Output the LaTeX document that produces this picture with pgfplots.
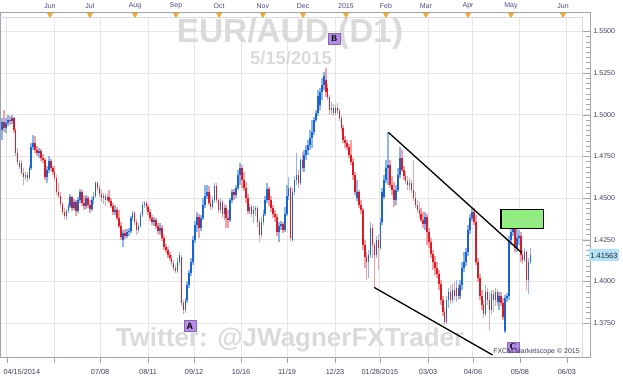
\documentclass[border=0pt]{standalone}
\usepackage{pgfplots}
\pgfplotsset{compat=1.18}
\usepackage{pgfplotstable}
\usepackage{fontspec}
\setmainfont{Liberation Sans}
\newfontfamily\serifb{Liberation Serif}

\definecolor{upb}{HTML}{1764D2}
\definecolor{upw}{HTML}{8DB6EA}
\definecolor{dnb}{HTML}{E01A22}
\definecolor{dnw}{HTML}{F2A2A6}
\definecolor{gridc}{HTML}{E6E6E6}
\definecolor{wm}{HTML}{DADADA}
\definecolor{lab}{HTML}{3E3E5E}
\definecolor{mon}{HTML}{4A4A86}
\definecolor{frame}{HTML}{A0A4B0}
\definecolor{innerc}{HTML}{D4DAE6}
\definecolor{tri}{HTML}{F5A623}
\definecolor{boxg}{HTML}{90EE7E}
\definecolor{abc}{HTML}{B68CEB}
\definecolor{pricec}{HTML}{B2E2F8}

\pgfplotstableread{
i o h l c
0 1.4909 1.4981 1.4849 1.4957
1 1.4957 1.5029 1.4897 1.4921
2 1.4921 1.4981 1.4891 1.4951
3 1.4951 1.4999 1.4933 1.4969
4 1.4969 1.4993 1.4939 1.4963
5 1.4963 1.4999 1.4945 1.4981
6 1.4981 1.4987 1.4891 1.4909
7 1.4909 1.4921 1.4753 1.4771
8 1.4771 1.4801 1.4699 1.4717
9 1.4687 1.4729 1.4675 1.4711
10 1.4711 1.4729 1.4639 1.4651
11 1.4651 1.4681 1.4579 1.4627
12 1.4627 1.4657 1.4609 1.4639
13 1.4639 1.4657 1.4597 1.4621
14 1.4621 1.4699 1.4609 1.4681
15 1.4681 1.4831 1.4669 1.4807
16 1.4807 1.4879 1.4789 1.4831
17 1.4831 1.4873 1.4771 1.4789
18 1.4789 1.4813 1.4753 1.4771
19 1.4771 1.4801 1.4741 1.4783
20 1.4783 1.4795 1.4723 1.4741
21 1.4741 1.4765 1.4711 1.4729
22 1.4729 1.4741 1.4609 1.4627
23 1.4627 1.4693 1.4591 1.4669
24 1.4669 1.4753 1.4651 1.4723
25 1.4723 1.4735 1.4663 1.4681
26 1.4681 1.4693 1.4639 1.4657
27 1.4657 1.4693 1.4603 1.4621
28 1.4621 1.4639 1.4519 1.4537
29 1.4537 1.4591 1.4501 1.4513
30 1.4513 1.4537 1.4447 1.4465
31 1.4465 1.4477 1.4399 1.4417
32 1.4417 1.4441 1.4375 1.4393
33 1.4393 1.4435 1.4369 1.4423
34 1.4423 1.4471 1.4411 1.4453
35 1.4453 1.4525 1.4441 1.4507
36 1.4507 1.4513 1.4423 1.4441
37 1.4441 1.4495 1.4429 1.4477
38 1.4477 1.4489 1.4393 1.4423
39 1.4423 1.4507 1.4411 1.4489
40 1.4489 1.4555 1.4471 1.4537
41 1.4537 1.4549 1.4453 1.4471
42 1.4471 1.4513 1.4429 1.4453
43 1.4453 1.4519 1.4435 1.4501
44 1.4501 1.4513 1.4441 1.4459
45 1.4459 1.4489 1.4411 1.4435
46 1.4435 1.4507 1.4423 1.4489
47 1.4489 1.4537 1.4465 1.4513
48 1.4513 1.4603 1.4501 1.4591
49 1.4591 1.4603 1.4543 1.4561
50 1.4561 1.4579 1.4507 1.4525
51 1.4525 1.4549 1.4477 1.4501
52 1.4501 1.4531 1.4465 1.4513
53 1.4513 1.4531 1.4453 1.4489
54 1.4489 1.4525 1.4477 1.4507
55 1.4507 1.4549 1.4471 1.4483
56 1.4483 1.4501 1.4441 1.4453
57 1.4453 1.4471 1.4399 1.4417
58 1.4417 1.4459 1.4399 1.4429
59 1.4429 1.4447 1.4369 1.4381
60 1.4381 1.4429 1.4321 1.4333
61 1.4333 1.4357 1.4249 1.4267
62 1.4249 1.4309 1.4207 1.4291
63 1.4291 1.4315 1.4255 1.4273
64 1.4273 1.4315 1.4261 1.4297
65 1.4297 1.4321 1.4273 1.4303
66 1.4303 1.4393 1.4291 1.4381
67 1.4381 1.4423 1.4363 1.4411
68 1.4411 1.4423 1.4339 1.4357
69 1.4357 1.4375 1.4279 1.4309
70 1.4309 1.4351 1.4291 1.4333
71 1.4333 1.4417 1.4321 1.4399
72 1.4399 1.4477 1.4387 1.4459
73 1.4459 1.4483 1.4441 1.4471
74 1.4471 1.4483 1.4429 1.4447
75 1.4447 1.4465 1.4399 1.4417
76 1.4417 1.4435 1.4363 1.4381
77 1.4381 1.4399 1.4339 1.4357
78 1.4357 1.4387 1.4333 1.4369
79 1.4369 1.4381 1.4315 1.4333
80 1.4333 1.4351 1.4285 1.4303
81 1.4303 1.4351 1.4279 1.4321
82 1.4321 1.4339 1.4243 1.4261
83 1.4261 1.4279 1.4189 1.4207
84 1.4207 1.4225 1.4171 1.4189
85 1.4189 1.4207 1.4141 1.4159
86 1.4159 1.4177 1.4123 1.4141
87 1.4141 1.4159 1.4093 1.4111
88 1.4111 1.4129 1.4063 1.4081
89 1.4081 1.4099 1.4051 1.4063
90 1.4063 1.4141 1.4051 1.4117
91 1.4117 1.4177 1.4099 1.4159
92 1.4147 1.4159 1.3853 1.3871
93 1.3871 1.3889 1.3805 1.3829
94 1.3829 1.3901 1.3811 1.3889
95 1.3889 1.4003 1.3871 1.3979
96 1.3979 1.4069 1.3961 1.4051
97 1.4051 1.4141 1.4033 1.4117
98 1.4117 1.4273 1.4099 1.4249
99 1.4249 1.4363 1.4231 1.4339
100 1.4339 1.4417 1.4297 1.4387
101 1.4387 1.4405 1.4261 1.4321
102 1.4321 1.4399 1.4303 1.4381
103 1.4381 1.4501 1.4369 1.4459
104 1.4459 1.4579 1.4441 1.4513
105 1.4513 1.4579 1.4495 1.4537
106 1.4537 1.4573 1.4459 1.4471
107 1.4471 1.4519 1.4429 1.4447
108 1.4447 1.4507 1.4435 1.4489
109 1.4489 1.4591 1.4471 1.4573
110 1.4573 1.4591 1.4471 1.4489
111 1.4489 1.4501 1.4411 1.4429
112 1.4429 1.4501 1.4411 1.4477
113 1.4477 1.4489 1.4381 1.4405
114 1.4405 1.4465 1.4369 1.4441
115 1.4441 1.4459 1.4321 1.4381
116 1.4381 1.4429 1.4321 1.4369
117 1.4369 1.4501 1.4357 1.4489
118 1.4489 1.4555 1.4471 1.4537
119 1.4537 1.4555 1.4489 1.4519
120 1.4519 1.4579 1.4501 1.4561
121 1.4561 1.4669 1.4549 1.4639
122 1.4639 1.4711 1.4579 1.4681
123 1.4681 1.4699 1.4561 1.4609
124 1.4609 1.4657 1.4543 1.4561
125 1.4561 1.4597 1.4471 1.4501
126 1.4501 1.4525 1.4405 1.4423
127 1.4423 1.4465 1.4405 1.4447
128 1.4447 1.4459 1.4387 1.4405
129 1.4405 1.4453 1.4351 1.4429
130 1.4429 1.4453 1.4393 1.4441
131 1.4441 1.4453 1.4327 1.4357
132 1.4357 1.4375 1.4237 1.4279
133 1.4279 1.4387 1.4261 1.4357
134 1.4357 1.4429 1.4339 1.4405
135 1.4405 1.4513 1.4393 1.4489
136 1.4489 1.4591 1.4471 1.4555
137 1.4555 1.4567 1.4453 1.4489
138 1.4489 1.4513 1.4417 1.4441
139 1.4441 1.4459 1.4381 1.4405
140 1.4405 1.4429 1.4357 1.4387
141 1.4387 1.4405 1.4273 1.4297
142 1.4297 1.4357 1.4237 1.4333
143 1.4333 1.4363 1.4309 1.4345
144 1.4345 1.4357 1.4291 1.4309
145 1.4309 1.4447 1.4297 1.4405
146 1.4405 1.4579 1.4393 1.4513
147 1.4513 1.4627 1.4489 1.4561
148 1.4561 1.4573 1.4243 1.4261
149 1.4249 1.4561 1.4237 1.4537
150 1.4537 1.4633 1.4519 1.4609
151 1.4609 1.4771 1.4579 1.4639
152 1.4639 1.4669 1.4561 1.4591
153 1.4591 1.4741 1.4579 1.4729
154 1.4729 1.4777 1.4663 1.4681
155 1.4681 1.4789 1.4657 1.4759
156 1.4759 1.4819 1.4729 1.4789
157 1.4789 1.4849 1.4759 1.4819
158 1.4819 1.4909 1.4789 1.4861
159 1.4861 1.4969 1.4801 1.4897
160 1.4897 1.4987 1.4879 1.4969
161 1.4969 1.5029 1.4957 1.5011
162 1.5011 1.5149 1.4993 1.5113
163 1.5059 1.5161 1.5029 1.5137
164 1.5137 1.5221 1.5089 1.5179
165 1.5179 1.5257 1.5149 1.5233
166 1.5209 1.5281 1.5107 1.5137
167 1.5161 1.5185 1.5089 1.5107
168 1.5107 1.5119 1.4999 1.5029
169 1.5029 1.5077 1.4999 1.5041
170 1.5041 1.5065 1.4993 1.5011
171 1.5011 1.5059 1.4999 1.5041
172 1.5041 1.5071 1.5005 1.5023
173 1.5023 1.5041 1.4963 1.4981
174 1.4981 1.4999 1.4903 1.4921
175 1.4921 1.4939 1.4831 1.4849
176 1.4849 1.4873 1.4801 1.4831
177 1.4831 1.4849 1.4789 1.4807
178 1.4807 1.4825 1.4741 1.4759
179 1.4759 1.4849 1.4699 1.4717
180 1.4717 1.4741 1.4609 1.4639
181 1.4639 1.4657 1.4519 1.4537
182 1.4501 1.4609 1.4483 1.4537
183 1.4537 1.4549 1.4441 1.4459
184 1.4459 1.4489 1.4405 1.4429
185 1.4429 1.4441 1.4189 1.4219
186 1.4219 1.4249 1.4081 1.4147
187 1.4147 1.4177 1.4009 1.4117
188 1.4117 1.4189 1.4021 1.4159
189 1.4159 1.4357 1.4141 1.4321
190 1.4321 1.4345 1.4141 1.4219
191 1.4219 1.4237 1.3967 1.4159
192 1.4159 1.4273 1.4141 1.4249
193 1.4249 1.4285 1.4069 1.4201
194 1.4201 1.4381 1.4189 1.4357
195 1.4357 1.4561 1.4339 1.4537
196 1.4507 1.4639 1.4495 1.4609
197 1.4609 1.4729 1.4591 1.4681
198 1.4681 1.4897 1.4579 1.4699
199 1.4699 1.4729 1.4561 1.4579
200 1.4579 1.4633 1.4519 1.4549
201 1.4549 1.4597 1.4447 1.4489
202 1.4489 1.4579 1.4459 1.4549
203 1.4549 1.4681 1.4537 1.4639
204 1.4639 1.4807 1.4621 1.4741
205 1.4741 1.4789 1.4657 1.4669
206 1.4669 1.4693 1.4609 1.4633
207 1.4633 1.4657 1.4585 1.4603
208 1.4603 1.4633 1.4549 1.4579
209 1.4579 1.4621 1.4549 1.4591
210 1.4591 1.4609 1.4531 1.4549
211 1.4549 1.4729 1.4483 1.4501
212 1.4501 1.4537 1.4441 1.4459
213 1.4459 1.4489 1.4411 1.4429
214 1.4429 1.4477 1.4381 1.4405
215 1.4405 1.4441 1.4357 1.4369
216 1.4369 1.4417 1.4321 1.4345
217 1.4345 1.4417 1.4309 1.4387
218 1.4387 1.4405 1.4219 1.4297
219 1.4297 1.4321 1.4201 1.4237
220 1.4237 1.4261 1.4141 1.4165
221 1.4165 1.4189 1.4069 1.4117
222 1.4117 1.4153 1.4039 1.4081
223 1.4081 1.4117 1.4021 1.4045
224 1.4045 1.4069 1.3949 1.3985
225 1.3985 1.4009 1.3859 1.3889
226 1.3889 1.3913 1.3793 1.3817
227 1.3817 1.3841 1.3739 1.3757
228 1.3757 1.3913 1.3745 1.3889
229 1.3889 1.3961 1.3841 1.3937
230 1.3937 1.3979 1.3865 1.3889
231 1.3889 1.3985 1.3871 1.3949
232 1.3949 1.3997 1.3889 1.3913
233 1.3913 1.4009 1.3877 1.3961
234 1.3961 1.3985 1.3889 1.3913
235 1.3913 1.4009 1.3895 1.3979
236 1.3979 1.4117 1.3949 1.4081
237 1.4081 1.4177 1.4057 1.4117
238 1.4117 1.4201 1.4093 1.4177
239 1.4177 1.4339 1.4153 1.4309
240 1.4309 1.4405 1.4285 1.4381
241 1.4381 1.4441 1.4363 1.4417
242 1.4417 1.4441 1.4339 1.4357
243 1.4357 1.4399 1.4099 1.4117
244 1.4117 1.4141 1.3997 1.4021
245 1.4021 1.4045 1.3889 1.3913
246 1.3913 1.3949 1.3829 1.3859
247 1.3859 1.3889 1.3781 1.3805
248 1.3805 1.3979 1.3793 1.3937
249 1.3937 1.3961 1.3859 1.3889
250 1.3889 1.3937 1.3709 1.3829
251 1.3829 1.3949 1.3805 1.3925
252 1.3925 1.3949 1.3817 1.3889
253 1.3889 1.3961 1.3853 1.3937
254 1.3937 1.3955 1.3853 1.3877
255 1.3877 1.3937 1.3829 1.3913
256 1.3913 1.3937 1.3853 1.3871
257 1.3871 1.3901 1.3769 1.3787
258 1.3703 1.3919 1.3691 1.3901
259 1.3901 1.3931 1.3877 1.3913
260 1.3913 1.4273 1.3889 1.4249
261 1.4249 1.4357 1.4219 1.4297
262 1.4297 1.4357 1.4273 1.4321
263 1.4321 1.4339 1.4177 1.4201
264 1.4201 1.4351 1.4177 1.4261
265 1.4261 1.4309 1.4219 1.4273
266 1.4273 1.4297 1.4117 1.4159
267 1.4159 1.4189 1.4105 1.4129
268 1.4129 1.4201 1.4117 1.4177
269 1.4177 1.4189 1.3949 1.4009
270 1.4009 1.4141 1.3925 1.4117
271 1.4117 1.4201 1.4105 1.41563
}\candles

\pgfplotsset{base/.style={at={(0pt,21pt)}, anchor=south west, scale only axis,
  width=590pt, height=345pt, xmin=-1.026, xmax=301.54},
  candle/.style={draw=none, mark=none, forget plot}}

\begin{document}
\begin{tikzpicture}
\path[use as bounding box] (0,0) rectangle (623pt,378pt);
\begin{axis}[base, ymin=1.3547, ymax=1.5617, clip=false,
  axis line style={draw=frame, line width=0.8pt},
  xtick={2.56,26.7,50.3,74.9,98.5,122.6,146.2,170.8,193.8,218.5,241.5,265.6,289.7},
  xticklabels={}, x tick style={draw=none},
  ytick={1.375,1.4,1.425,1.45,1.475,1.5,1.525,1.55},
  ytick pos=right, yticklabel pos=right,
  tick align=inside, major tick length=8pt, minor tick length=4pt,
  minor y tick num=7,
  y tick style={draw=frame, line width=0.6pt},
  grid=major, major grid style={draw=gridc, line width=1pt},
  yticklabel style={font=\fontsize{7}{8}\selectfont, text=lab,
    /pgf/number format/.cd, fixed, fixed zerofill, precision=4, assume math mode=true},
]
\fill[white] (rel axis cs:0.0015,0.98551) rectangle (rel axis cs:0.98644,0.9985);
\draw[innerc, line width=0.8pt] (rel axis cs:0.98644,0) -- (rel axis cs:0.98644,0.98551) -- (rel axis cs:0,0.98551);

\node[text=wm, font=\bfseries\fontsize{33.4}{36}\selectfont] at (axis cs:147.7,1.5486) {EUR/AUD (D1)};
\node[text=wm, font=\bfseries\fontsize{18.4}{20}\selectfont] at (axis cs:148.2,1.5342) {5/15/2015};
\node[text=wm, font=\bfseries\fontsize{26}{28}\selectfont] at (axis cs:147.7,1.3649) {Twitter: @JWagnerFXTrader};

% wicks
\addplot[candle, restrict expr to domain={\thisrow{c}-\thisrow{o}}{0:1},
  error bars/.cd, y dir=plus, y explicit, error mark=none,
  error bar style={draw=upw, line width=1.6pt}]
  table[x=i, y=l, y error expr=\thisrow{h}-\thisrow{l}] {\candles};
\addplot[candle, restrict expr to domain={\thisrow{c}-\thisrow{o}}{-1:0},
  error bars/.cd, y dir=plus, y explicit, error mark=none,
  error bar style={draw=dnw, line width=1.6pt}]
  table[x=i, y=l, y error expr=\thisrow{h}-\thisrow{l}] {\candles};
% bodies
\addplot[candle, restrict expr to domain={\thisrow{c}-\thisrow{o}}{0:1},
  error bars/.cd, y dir=plus, y explicit, error mark=none,
  error bar style={draw=upb, line width=1.6pt}]
  table[x=i, y=o, y error expr=\thisrow{c}-\thisrow{o}] {\candles};
\addplot[candle, restrict expr to domain={\thisrow{c}-\thisrow{o}}{-1:0},
  error bars/.cd, y dir=plus, y explicit, error mark=none,
  error bar style={draw=dnb, line width=1.6pt}]
  table[x=i, y=c, y error expr=\thisrow{o}-\thisrow{c}] {\candles};

% trend lines
\addplot[black, line width=1.3pt] coordinates {(198.1,1.4895) (266.5,1.4173)};
\addplot[black, line width=1.3pt] coordinates {(190.8,1.3965) (251.6,1.3559)};
% target box
\addplot[fill=boxg, draw=black, line width=1.3pt] coordinates {(255.9,1.4319) (277.6,1.4319) (277.6,1.4433) (255.9,1.4433)} -- cycle;
\addplot[gray!45, line width=1pt, dash pattern=on 5pt off 3pt] coordinates {(256.6,1.4359) (277.0,1.4359)};

\node[fill=abc, draw=abc!75!black, line width=0.4pt, font=\bfseries\fontsize{9}{10}\selectfont, inner sep=0pt, minimum width=12pt, minimum height=11pt] at (axis cs:96.4,1.3733) {A};
\node[fill=abc, draw=abc!75!black, line width=0.4pt, font=\serifb\bfseries\fontsize{9}{10}\selectfont, inner sep=0pt, minimum width=12pt, minimum height=11pt] at (axis cs:170.3,1.5455) {B};
\node[fill=abc, draw=abc!75!black, line width=0.4pt, font=\serifb\bfseries\fontsize{9}{10}\selectfont, inner sep=0pt, minimum width=12pt, minimum height=10pt] at (axis cs:262.1,1.3607) {C};

\node[text=lab, font=\fontsize{7}{8}\selectfont] at (axis cs:274.1,1.3577) {FXCM Marketscope © 2015};
\node[fill=pricec, text=black!85, font=\fontsize{7.5}{8}\selectfont, inner sep=1.5pt, minimum height=12pt, xshift=14pt] at (axis cs:301.54,1.41563) {1.41563};
\node[anchor=west, text=lab, font=\fontsize{7.3}{8}\selectfont, yshift=-15pt] at (axis cs:-1.026,1.3547) {04/15/2014};
\end{axis}

% top band: months
\begin{axis}[base, ymin=0, ymax=1, hide y axis, axis x line*=top, clip=false,
  axis line style={draw=frame, line width=0.8pt},
  xtick={24.6,45.1,68.2,89.2,111.3,133.8,154.4,176.4,196.9,217.4,239.0,261.0,287.7},
  xticklabels={Jun,Jul,Aug,Sep,Oct,Nov,Dec,2015,Feb,Mar,Apr,May,Jun},
  tick align=inside, major tick length=4pt, minor tick length=3pt, minor x tick num=5,
  x tick style={draw=frame, line width=0.6pt},
  xticklabel style={font=\fontsize{7}{8}\selectfont, text=mon}]
\addplot[only marks, mark=triangle*, mark size=3pt, mark options={rotate=180, fill=tri, draw=tri}]
  coordinates {(24.6,0.9925) (45.1,0.9925) (68.2,0.9925) (89.2,0.9925) (111.3,0.9925) (133.8,0.9925) (154.4,0.9925) (176.4,0.9925) (196.9,0.9925) (217.4,0.9925) (239.0,0.9925) (261.0,0.9925) (287.7,0.9925)};
\end{axis}

% bottom band: dates
\begin{axis}[base, ymin=0, ymax=1, hide y axis, axis x line*=bottom,
  axis line style={draw=frame, line width=0.8pt},
  xtick={2.56,26.7,50.3,74.9,98.5,122.6,146.2,170.8,193.8,218.5,241.5,265.6,289.7},
  xticklabels={,,07/08,08/11,09/12,10/16,11/19,12/23,01/28/2015,03/03,04/06,05/08,06/03},
  tick align=outside, major tick length=6pt, minor tick length=3pt, minor x tick num=7,
  x tick style={draw=frame, line width=0.6pt},
  xticklabel style={font=\fontsize{7.3}{8}\selectfont, text=lab, yshift=-3pt}]
\end{axis}
\end{tikzpicture}
\end{document}
